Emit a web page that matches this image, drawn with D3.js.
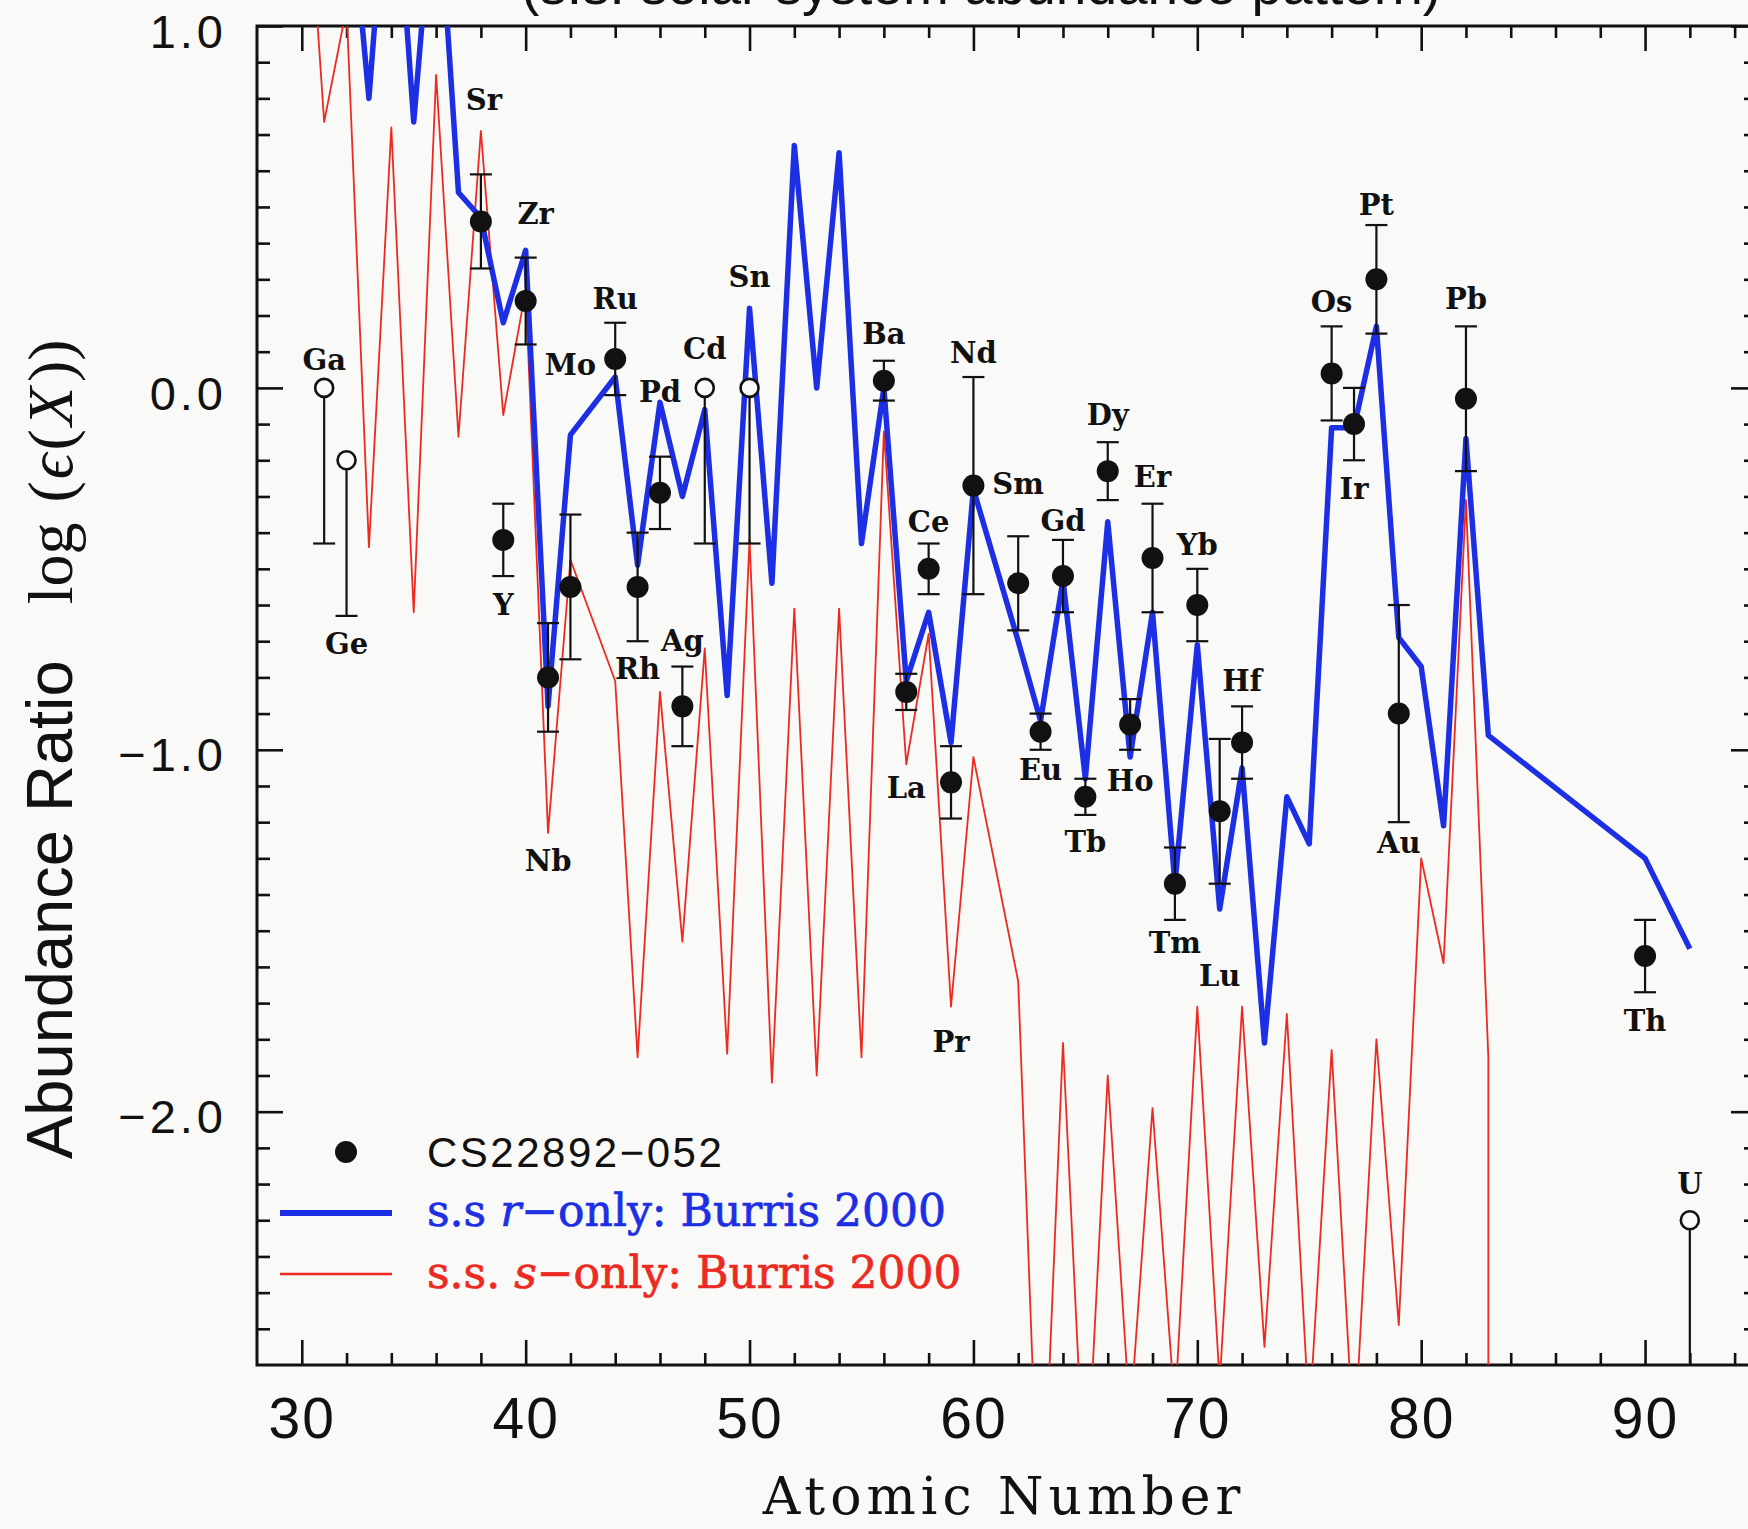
<!DOCTYPE html>
<html>
<head>
<meta charset="utf-8">
<script src="https://cdn.jsdelivr.net/npm/d3@7"></script>
<style>
  html, body { margin: 0; padding: 0; background: #f9f9f7; }
  svg { display: block; }
</style>
</head>
<body>
<svg width="1748" height="1529"></svg>
<script>
// s.s. r-only pattern (Burris 2000), scaled to the star
const rZ   = [32, 33, 34, 35, 36, 37, 38, 39, 40, 41, 42, 44, 45, 46, 47, 48, 49, 50, 51, 52,
              53, 54, 55, 56, 57, 58, 59, 60, 62, 63, 64, 65, 66, 67, 68, 69, 70, 71, 72, 73,
              74, 75, 76, 77, 78, 79, 80, 81, 82, 83, 90, 92];
const rVal = [1.47, 0.80, 1.60, 0.735, 1.47, 0.54, 0.47, 0.18, 0.38, -0.88, -0.13, 0.03, -0.49, -0.04, -0.30, -0.06, -0.85, 0.22, -0.54, 0.67,
              0.00, 0.65, -0.43, 0.00, -0.81, -0.62, -0.98, -0.28, -0.70, -0.92, -0.53, -1.08, -0.37, -1.02, -0.62, -1.37, -0.71, -1.44, -1.05, -1.81,
              -1.13, -1.26, -0.11, -0.11, 0.17, -0.69, -0.77, -1.21, -0.14, -0.96, -1.30, -1.55];

// s.s. s-only pattern (Burris 2000); the last pair at Z=83 is the drop to zero
const sZ   = [30, 31, 32, 33, 34, 35, 36, 37, 38, 39, 40, 41, 42, 44, 45, 46, 47, 48, 49, 50,
              51, 52, 53, 54, 55, 56, 57, 58, 59, 60, 62, 63, 64, 65, 66, 67, 68, 69, 70, 71,
              72, 73, 74, 75, 76, 77, 78, 79, 80, 81, 82, 83, 83];
const sVal = [1.65, 0.735, 1.05, -0.44, 0.72, -0.62, 0.865, -0.135, 0.71, -0.075, 0.27, -1.23, -0.475, -0.81, -1.85, -0.84, -1.53, -0.72, -1.84, -0.42,
              -1.92, -0.61, -1.90, -0.61, -1.85, -0.12, -1.04, -0.68, -1.71, -1.02, -1.64, -3.3, -1.81, -3.1, -1.90, -2.85, -1.99, -2.82, -1.71, -2.75,
              -1.71, -2.65, -1.73, -2.85, -1.83, -2.93, -1.80, -2.59, -1.30, -1.59, -0.31, -1.85, -4.0];

// CS22892-052 abundances; limits are the open symbols
const obsEl  = ['Ga', 'Ge', 'Sr', 'Y', 'Zr', 'Nb', 'Mo', 'Ru', 'Rh', 'Pd', 'Ag', 'Cd', 'Sn', 'Ba', 'La', 'Ce', 'Pr', 'Nd',
                'Sm', 'Eu', 'Gd', 'Tb', 'Dy', 'Ho', 'Er', 'Tm', 'Yb', 'Lu', 'Hf', 'Os', 'Ir', 'Pt', 'Au', 'Pb', 'Th', 'U'];
const obsZ   = [31, 32, 38, 39, 40, 41, 42, 44, 45, 46, 47, 48, 50, 56, 57, 58, 59, 60,
                62, 63, 64, 65, 66, 67, 68, 69, 70, 71, 72, 76, 77, 78, 79, 82, 90, 92];
const obsVal = [0.00, -0.20, 0.46, -0.42, 0.24, -0.80, -0.55, 0.08, -0.55, -0.29, -0.88, 0.00, 0.00, 0.02, -0.84, -0.50, -1.09, -0.27,
                -0.54, -0.95, -0.52, -1.13, -0.23, -0.93, -0.47, -1.37, -0.60, -1.17, -0.98, 0.04, -0.10, 0.30, -0.90, -0.03, -1.57, -2.30];
const obsHi  = [0.00, -0.20, 0.59, -0.32, 0.36, -0.65, -0.35, 0.18, -0.40, -0.19, -0.77, 0.00, 0.00, 0.075, -0.79, -0.43, -0.99, 0.03,
                -0.41, -0.90, -0.42, -1.08, -0.15, -0.86, -0.32, -1.27, -0.50, -0.97, -0.88, 0.17, 0.00, 0.45, -0.60, 0.17, -1.47, -2.30];
const obsLo  = [-0.43, -0.63, 0.33, -0.52, 0.12, -0.95, -0.75, -0.02, -0.70, -0.39, -0.99, -0.43, -0.43, -0.035, -0.89, -0.57, -1.19, -0.57,
                -0.67, -1.00, -0.62, -1.18, -0.31, -1.00, -0.62, -1.47, -0.70, -1.37, -1.08, -0.09, -0.20, 0.15, -1.20, -0.23, -1.67, -2.80];
const isLimit = ['Ga', 'Ge', 'Cd', 'Sn', 'U'];

const xMajor = [30, 40, 50, 60, 70, 80, 90];
const yMajor = [1, 0, -1, -2];

// where each element name sits relative to its point, in px
const labelShift = {
  Ga: [0, -28], Ge: [0, 183], Sr: [3, -122], Y: [0, 65], Zr: [10, -87], Nb: [0, 183], Mo: [0, -222],
  Ru: [0, -60], Rh: [0, 82], Pd: [0, -101], Ag: [0, -66], Cd: [0, -39], Sn: [0, -111], Ba: [0, -47],
  La: [0, 96], Ce: [0, -47], Pr: [0, 259], Nd: [0, -133], Sm: [0, -100], Eu: [0, 38], Gd: [0, -56],
  Tb: [0, 45], Dy: [0, -57], Ho: [0, 56], Er: [0, -81], Tm: [0, 59], Yb: [0, -60], Lu: [0, 164],
  Hf: [0, -62], Os: [0, -72], Ir: [0, 64], Pt: [0, -75], Au: [0, 129], Pb: [0, -100], Th: [0, 64], U: [0, -37]
};

const sans = '"Liberation Sans", Arial, Helvetica, sans-serif';
const serif = '"DejaVu Serif", "Liberation Serif", serif';
const mathFont = '"Liberation Serif", "Times New Roman", serif';
const blue = '#1d2fe4';
const red = '#ec2a22';
const ink = '#111';
const paper = '#f9f9f7';

const svg = d3.select('svg');
const width = +svg.attr('width');
const height = +svg.attr('height');

const x = d3.scaleLinear().domain([28, 95]).range([257, 1757]);
const y = d3.scaleLinear().domain([-2.7, 1.0]).range([1365, 26]);

svg.append('rect').attr('width', width).attr('height', height).attr('fill', paper);

svg.append('clipPath').attr('id', 'plot')
  .append('rect')
    .attr('x', x(28))
    .attr('y', y(1))
    .attr('width', x(95) - x(28))
    .attr('height', y(-2.7) - y(1));

// --- axes: ticks point inward on all four sides ---
const xMinor = d3.range(30, 95, 2).filter(v => v % 10 !== 0);
const yMinor = d3.range(-26, 10).filter(i => i % 10 !== 0).map(i => i / 10);

function tickGroup(axis, transform) {
  const g = svg.append('g').attr('transform', transform).call(axis);
  g.select('.domain').remove();
  g.selectAll('line').attr('stroke', ink).attr('stroke-width', 2.6);
  return g;
}

tickGroup(d3.axisBottom(x).tickValues(xMinor).tickSize(-12).tickFormat(''), `translate(0,${y(-2.7)})`);
tickGroup(d3.axisTop(x).tickValues(xMinor).tickSize(-12).tickFormat(''), `translate(0,${y(1)})`);
tickGroup(d3.axisTop(x).tickValues(xMajor).tickSize(-25).tickFormat(''), `translate(0,${y(1)})`);
tickGroup(d3.axisLeft(y).tickValues(yMinor).tickSize(-13).tickFormat(''), `translate(${x(28)},0)`);
tickGroup(d3.axisRight(y).tickValues(yMinor).tickSize(-13).tickFormat(''), `translate(${x(95)},0)`);
tickGroup(d3.axisRight(y).tickValues(yMajor).tickSize(-26).tickFormat(''), `translate(${x(95)},0)`);

const gx = tickGroup(d3.axisBottom(x).tickValues(xMajor).tickSize(-25).tickPadding(33), `translate(0,${y(-2.7)})`);
gx.selectAll('text')
  .attr('fill', ink)
  .style('font-family', sans)
  .style('font-size', '57px')
  .style('letter-spacing', '2px');

const gy = tickGroup(d3.axisLeft(y).tickValues(yMajor).tickSize(-26).tickPadding(30).tickFormat(d3.format('.1f')), `translate(${x(28)},0)`);
gy.selectAll('text')
  .attr('fill', ink)
  .attr('dy', '0.45em')
  .style('font-family', sans)
  .style('font-size', '47px')
  .style('letter-spacing', '4px');

svg.append('rect')
  .attr('x', x(28))
  .attr('y', y(1))
  .attr('width', x(95) - x(28))
  .attr('height', y(-2.7) - y(1))
  .attr('fill', 'none')
  .attr('stroke', ink)
  .attr('stroke-width', 3);

// --- curves ---
const plot = svg.append('g').attr('clip-path', 'url(#plot)');
const line = d3.line().x(d => x(d[0])).y(d => y(d[1]));

plot.append('path')
  .datum(d3.zip(sZ, sVal))
  .attr('d', line)
  .attr('fill', 'none')
  .attr('stroke', red)
  .attr('stroke-width', 1.8)
  .attr('stroke-linejoin', 'round');

plot.append('path')
  .datum(d3.zip(rZ, rVal))
  .attr('d', line)
  .attr('fill', 'none')
  .attr('stroke', blue)
  .attr('stroke-width', 5.5)
  .attr('stroke-linejoin', 'round');

// --- observed points with error bars ---
const obs = obsZ.map((z, i) => ({
  el: obsEl[i], z, v: obsVal[i], hi: obsHi[i], lo: obsLo[i], limit: isLimit.includes(obsEl[i])
}));

const bars = plot.selectAll('.bar')
  .data(obs)
  .enter().append('g')
    .attr('stroke', ink)
    .attr('stroke-width', 2.2);

bars.append('line')
  .attr('x1', d => x(d.z))
  .attr('x2', d => x(d.z))
  .attr('y1', d => y(d.hi))
  .attr('y2', d => y(d.lo));

bars.append('line')
  .attr('x1', d => x(d.z) - 11)
  .attr('x2', d => x(d.z) + 11)
  .attr('y1', d => y(d.lo))
  .attr('y2', d => y(d.lo));

bars.filter(d => !d.limit).append('line')
  .attr('x1', d => x(d.z) - 11)
  .attr('x2', d => x(d.z) + 11)
  .attr('y1', d => y(d.hi))
  .attr('y2', d => y(d.hi));

plot.selectAll('.dot')
  .data(obs)
  .enter().append('circle')
    .attr('cx', d => x(d.z))
    .attr('cy', d => y(d.v))
    .attr('r', d => d.limit ? 9 : 11)
    .attr('fill', d => d.limit ? paper : ink)
    .attr('stroke', ink)
    .attr('stroke-width', d => d.limit ? 2.6 : 0);

svg.selectAll('.label')
  .data(obs)
  .enter().append('text')
    .attr('x', d => x(d.z) + labelShift[d.el][0])
    .attr('y', d => y(d.v) + labelShift[d.el][1])
    .attr('dy', '0.36em')
    .attr('text-anchor', 'middle')
    .attr('fill', ink)
    .style('font-family', serif)
    .style('font-weight', 'bold')
    .style('font-size', '29px')
    .text(d => d.el);

// --- titles ---
// the reference image crops this heading at the top edge
svg.append('text')
  .attr('x', 981)
  .attr('y', 4)
  .attr('text-anchor', 'middle')
  .attr('fill', ink)
  .style('font-family', sans)
  .style('font-size', '55px')
  .text('(s.s. solar system abundance pattern)');

svg.append('text')
  .attr('x', (x(28) + x(95)) / 2 - 3)
  .attr('y', 1514)
  .attr('text-anchor', 'middle')
  .attr('fill', ink)
  .style('font-family', serif)
  .style('font-size', '52px')
  .style('letter-spacing', '5px')
  .text('Atomic Number');

const yTitle = svg.append('text')
  .attr('transform', 'translate(72,1159) rotate(-90)')
  .attr('fill', ink);
yTitle.append('tspan')
  .style('font-family', sans)
  .style('font-size', '65px')
  .text('Abundance Ratio');
yTitle.append('tspan').attr('dx', 56).style('font-family', mathFont).style('font-size', '64px').text('log');
yTitle.append('tspan').attr('dx', 20).style('font-family', mathFont).style('font-size', '64px').text('(');
yTitle.append('tspan').attr('dx', 2).style('font-family', mathFont).style('font-size', '64px').style('font-style', 'italic').text('ϵ');
yTitle.append('tspan').attr('dx', 3).style('font-family', mathFont).style('font-size', '64px').text('(');
yTitle.append('tspan').attr('dx', 3).style('font-family', mathFont).style('font-size', '64px').style('font-style', 'italic').text('X');
yTitle.append('tspan').attr('dx', 5).style('font-family', mathFont).style('font-size', '64px').text('))');

// --- legend ---
const legend = svg.append('g');
legend.append('circle').attr('cx', 346).attr('cy', 1152).attr('r', 11).attr('fill', ink);
legend.append('text')
  .attr('x', 427).attr('y', 1167)
  .attr('fill', ink)
  .style('font-family', sans)
  .style('font-size', '42px')
  .style('letter-spacing', '2.5px')
  .text('CS22892−052');

legend.append('line')
  .attr('x1', 280).attr('x2', 392).attr('y1', 1213).attr('y2', 1213)
  .attr('stroke', blue).attr('stroke-width', 6);
const rText = legend.append('text')
  .attr('x', 427).attr('y', 1226)
  .attr('fill', blue)
  .attr('stroke', blue)
  .attr('stroke-width', 0.7)
  .style('font-family', serif)
  .style('font-size', '44px');
rText.append('tspan').text('s.s ');
rText.append('tspan').style('font-style', 'italic').text('r');
rText.append('tspan').text('−only: Burris 2000');

legend.append('line')
  .attr('x1', 280).attr('x2', 392).attr('y1', 1274).attr('y2', 1274)
  .attr('stroke', red).attr('stroke-width', 2.5);
const sText = legend.append('text')
  .attr('x', 427).attr('y', 1288)
  .attr('fill', red)
  .attr('stroke', red)
  .attr('stroke-width', 0.7)
  .style('font-family', serif)
  .style('font-size', '44px');
sText.append('tspan').text('s.s. ');
sText.append('tspan').style('font-style', 'italic').text('s');
sText.append('tspan').text('−only: Burris 2000');
</script>
</body>
</html>
